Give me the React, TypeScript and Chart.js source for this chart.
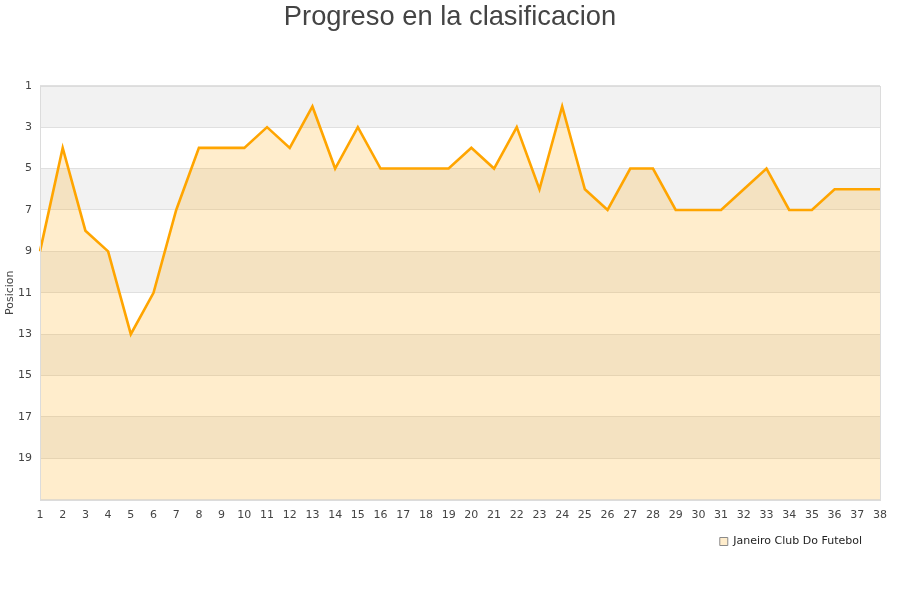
import React, { useEffect, useRef } from "react";
import { Chart, registerables } from "chart.js";

Chart.register(...registerables);

const TITLE = "Progreso en la clasificacion";
const SERIES_NAME = "Janeiro Club Do Futebol";
const Y_TITLE = "Posicion";
const jornadas: string[] = Array.from({ length: 38 }, (_, i) => String(i + 1));
const posiciones: number[] = [
  9, 4, 8, 9, 13, 11, 7, 4, 4, 4,
  3, 4, 2, 5, 3, 5, 5, 5, 5, 4,
  5, 3, 6, 2, 6, 7, 5, 5, 7, 7,
  7, 6, 5, 7, 7, 6, 6, 6,
];
const Y_MIN = 1;
const Y_MAX = 21;
const greyBandStarts: number[] = [1, 5, 9, 13, 17];
const BAND_SIZE = 2;

const bandsPlugin = {
  id: "bands",
  afterLayout(chart: any) {
    if (chart.titleBlock) {
      chart.titleBlock.left += 10;
      chart.titleBlock.right += 10;
    }
    if (chart.legend) {
      chart.legend.left -= 13;
      chart.legend.right -= 13;
    }
  },
  beforeDraw(chart: any) {
    const { ctx, chartArea, scales } = chart;
    const y = scales.y;
    ctx.save();
    ctx.fillStyle = "#f2f2f2";
    for (const s of greyBandStarts) {
      const p1 = y.getPixelForValue(s);
      const p2 = y.getPixelForValue(s + BAND_SIZE);
      ctx.fillRect(chartArea.left, Math.min(p1, p2), chartArea.right - chartArea.left, Math.abs(p2 - p1));
    }
    ctx.restore();
  },
  afterDatasetsDraw(chart: any) {
    const { ctx, chartArea } = chart;
    ctx.save();
    ctx.strokeStyle = "#dcdcdc";
    ctx.lineWidth = 1;
    ctx.strokeRect(
      Math.round(chartArea.left) + 0.5,
      Math.round(chartArea.top) + 0.5,
      Math.round(chartArea.right - chartArea.left),
      Math.round(chartArea.bottom - chartArea.top)
    );
    ctx.restore();
  },
};

export default function App() {
  const ref = useRef<HTMLCanvasElement | null>(null);
  useEffect(() => {
    if (!ref.current) return;
    const chart = new Chart(ref.current, {
      type: "line",
      data: {
        labels: jornadas,
        datasets: [
          {
            label: SERIES_NAME,
            data: posiciones,
            borderColor: "#FFA500",
            backgroundColor: "rgba(255,165,0,0.2)",
            borderWidth: 2.6,
            pointRadius: 0,
            tension: 0,
            fill: { value: Y_MAX },
          },
        ],
      },
      options: {
        animation: false,
        responsive: false,
        layout: { padding: { left: 0, right: 20, top: 0, bottom: 43 } },
        plugins: {
          title: {
            display: true,
            text: TITLE,
            color: "#444",
            font: { family: "'Liberation Sans', Arial, sans-serif", size: 27.3, weight: "normal" },
            padding: { top: 1, bottom: 52 },
          },
          legend: {
            display: true,
            position: "bottom",
            align: "end",
            labels: {
              boxWidth: 8,
              boxHeight: 8,
              color: "#222",
              font: { family: "'DejaVu Sans', sans-serif", size: 11 },
              padding: 5,
              generateLabels: (c: any) =>
                c.data.datasets.map((ds: any, i: number) => ({
                  text: ds.label,
                  fillStyle: ds.backgroundColor,
                  strokeStyle: "#8a8a8a",
                  lineWidth: 1,
                  hidden: false,
                  datasetIndex: i,
                  fontColor: "#222",
                })),
            },
          },
          tooltip: { enabled: false },
        },
        scales: {
          x: {
            type: "category",
            offset: false,
            grid: { display: false, drawTicks: false },
            border: { display: false },
            ticks: {
              color: "#444",
              font: { family: "'DejaVu Sans', sans-serif", size: 11 },
              padding: 9,
              autoSkip: false,
              maxRotation: 0,
            },
          },
          y: {
            reverse: true,
            min: Y_MIN,
            max: Y_MAX,
            grid: { color: "#e0e0e0", drawTicks: false },
            border: { display: false },
            title: {
              display: true,
              text: Y_TITLE,
              color: "#444",
              font: { family: "'DejaVu Sans', sans-serif", size: 11 },
              padding: { top: 4, bottom: 2 },
            },
            ticks: {
              stepSize: 2,
              color: "#444",
              font: { family: "'DejaVu Sans', sans-serif", size: 11 },
              padding: 8,
              callback: (v: any) => (Number(v) === Y_MAX ? "" : String(v)),
            },
            afterFit: (scale: any) => {
              scale.width = 40;
            },
          },
        },
      },
      plugins: [bandsPlugin],
    });
    return () => chart.destroy();
  }, []);
  return (
    <div style={{ position: "absolute", left: 0, top: 0, width: 900, height: 600, background: "#fff" }}>
      <canvas ref={ref} width={900} height={600} style={{ display: "block" }} />
    </div>
  );
}
